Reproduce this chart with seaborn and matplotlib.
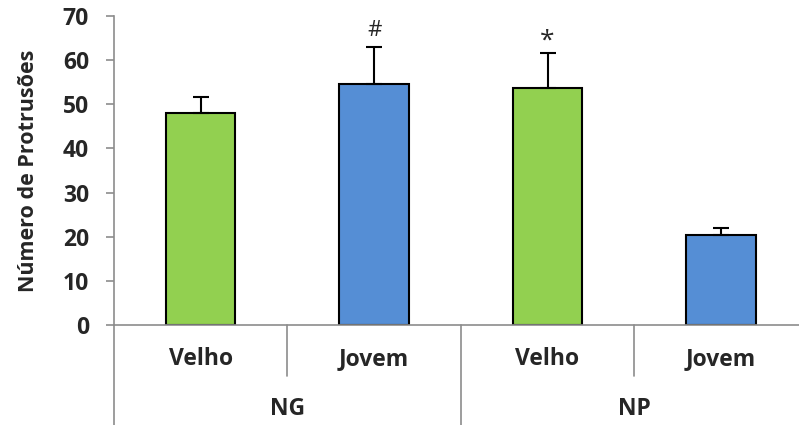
import matplotlib
matplotlib.use("Agg")
import matplotlib.pyplot as plt
import seaborn as sns
import pandas as pd

# data
grupos = ["NG", "NG", "NP", "NP"]
idades = ["Velho", "Jovem", "Velho", "Jovem"]
valores = [48.0, 54.6, 53.6, 20.4]
erros = [3.6, 8.4, 8.1, 1.5]
marcas = ["", "#", "*", ""]
grupo_labels = ["NG", "NP"]
yticks = [0, 10, 20, 30, 40, 50, 60, 70]

cores = {"Velho": "#92D050", "Jovem": "#558ED5"}
cinza = "#8C8C8C"

sns.set_style("white")
plt.rcParams["font.family"] = ["Open Sans", "DejaVu Sans"]

df = pd.DataFrame({
    "grupo": grupos,
    "idade": idades,
    "valor": valores,
    "x": [g + " " + i for g, i in zip(grupos, idades)],
})

fig = plt.figure(figsize=(7.99, 4.25), dpi=100)
ax = fig.add_axes([114 / 799, 100 / 425, 1 - 114 / 799, 309 / 425])

sns.barplot(data=df, x="x", y="valor", hue="idade", palette=cores,
            dodge=False, width=0.4, edgecolor="black", linewidth=1.5,
            saturation=1, legend=False, ax=ax)

pos = list(range(len(valores)))
ax.errorbar(pos, valores, yerr=[[0] * len(erros), erros], fmt="none",
            ecolor="black", elinewidth=1.5, capsize=5.5, capthick=1.5)

# marker size and offset above the error bar (points)
estilo_marca = {"#": (16, 4.5), "*": (19, -0.5)}
for p, v, e, m in zip(pos, valores, erros, marcas):
    if m:
        fs, dy = estilo_marca[m]
        ax.annotate(m, (p, v + e), xytext=(0, dy), textcoords="offset points",
                    ha="center", va="bottom", fontsize=fs)

ax.set_ylim(0, 70)
ax.set_xlim(-0.5, 3.45)
ax.set_yticks(yticks)
ax.set_yticklabels([str(t) for t in yticks], fontsize=16.5, fontweight="bold")
ax.set_ylabel("Número de Protrusões", fontsize=15.5, fontweight="bold", labelpad=17)
ax.set_xlabel("")
ax.set_xticks([])

sns.despine(ax=ax, top=True, right=True)
for s in ["left", "bottom"]:
    ax.spines[s].set_color(cinza)
    ax.spines[s].set_linewidth(1.2)
ax.tick_params(axis="y", direction="out", length=6, width=1.2, color=cinza,
               left=True, pad=12)

# grouped category axis
tr = ax.get_xaxis_transform()
for p, lab in zip(pos, idades):
    ax.text(p, -0.11, lab, transform=tr, ha="center", va="center",
            fontsize=16.5, fontweight="bold")
for k, g in enumerate(grupo_labels):
    ax.text(2 * k + 0.5, -0.272, g, transform=tr, ha="center", va="center",
            fontsize=16.5, fontweight="bold")
for xs in [0.5, 2.5]:
    ax.plot([xs, xs], [0, -0.165], transform=tr, color=cinza, lw=1.2, clip_on=False)
for xs in [-0.5, 1.5, 3.5]:
    ax.plot([xs, xs], [0, -0.33], transform=tr, color=cinza, lw=1.2, clip_on=False)

fig.savefig("out.png", dpi=100)
